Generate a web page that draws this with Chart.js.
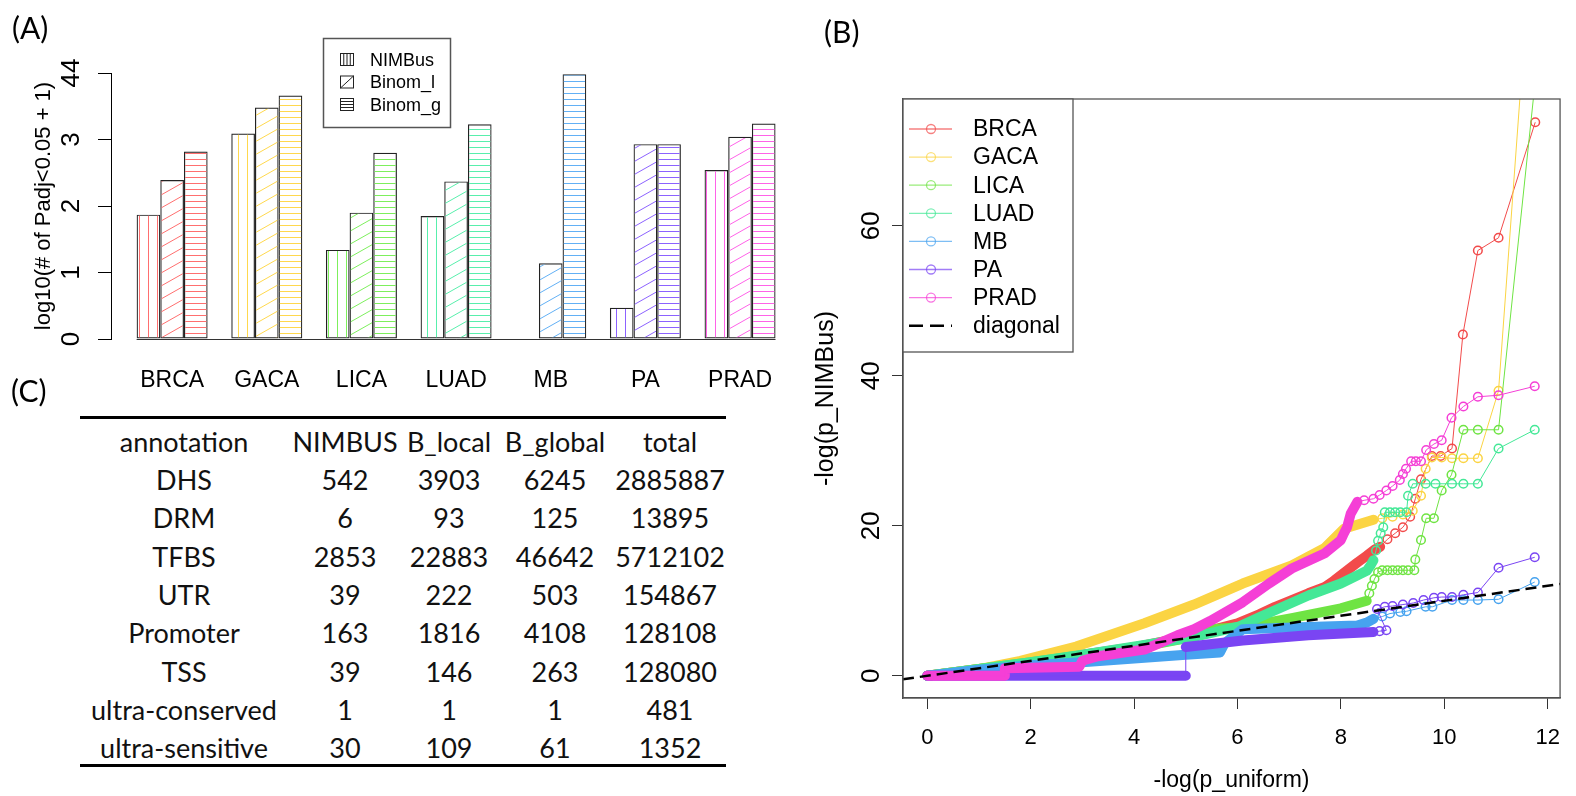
<!DOCTYPE html>
<html>
<head>
<meta charset="utf-8">
<script src="https://cdn.jsdelivr.net/npm/chart.js@4.4.1/dist/chart.umd.min.js"></script>
<style>
  body { margin: 0; background: #fff; }
  #page { position: relative; width: 1576px; height: 796px; overflow: hidden; background: #fff; }
  canvas { position: absolute; top: 0; }
  .tag { position: absolute; font-family: Lato, sans-serif; font-size: 30px; line-height: 30px; color: #000; }
  .rule { position: absolute; left: 80px; width: 646px; height: 3px; background: #000; }
  .cell { position: absolute; height: 38.3px; line-height: 38.3px; text-align: center; font-family: Lato, sans-serif; font-size: 27px; color: #111; white-space: nowrap; }
</style>
</head>
<body>
<div id="page">
  <canvas id="barChart" width="800" height="400" style="left:0"></canvas>
  <canvas id="qqChart" width="776" height="796" style="left:800px"></canvas>
  <div class="tag" style="left:12px;top:12px">(A)</div>
  <div class="tag" style="left:824px;top:16px">(B)</div>
  <div class="tag" style="left:11px;top:375px">(C)</div>
  <div class="rule" style="top:415.5px"></div>
  <div class="rule" style="top:763.5px"></div>
  <div id="table"></div>
</div>
<script>
// ---- (A) bar data ----
const groups = ['BRCA', 'GACA', 'LICA', 'LUAD', 'MB', 'PA', 'PRAD'];
const methods = ['NIMBus', 'Binom_l', 'Binom_g'];
const nimbusVals = [1.87, 3.09, 1.34, 1.85, 0.00, 0.47, 2.54];
const binomLVals = [2.39, 3.48, 1.90, 2.37, 1.14, 2.93, 3.04];
const binomGVals = [2.82, 3.66, 2.80, 3.23, 3.98, 2.93, 3.24];
const barYTicks = ['0', '1', '2', '3', '44'];
const hatchColors = ['#ff6f6f', '#ffd84d', '#7def5c', '#58efac', '#62b0f5', '#8c62ff', '#ff62e8'];

// ---- (B) qq data: dense band part + sparse circles ----
const qqNames = ['BRCA', 'GACA', 'LICA', 'LUAD', 'MB', 'PA', 'PRAD'];
const qqColors = ['#f24b4b', '#fbd443', '#6fe443', '#44e897', '#47a3ef', '#7a45f3', '#f53fd6'];

const brcaBandX = [0, 2, 4, 5, 6, 6.42, 6.73, 7.05, 7.37, 7.68, 7.87, 8.32, 8.5, 8.65, 8.76];
const brcaBandY = [0, 1.8, 3.8, 5.2, 7.0, 8.2, 9.2, 10.1, 11.0, 11.8, 12.7, 15.1, 16.0, 16.8, 17.2];
const brcaTailX = [8.9, 9.05, 9.2, 9.34, 9.44, 9.55, 9.76, 9.93, 10.15, 10.36, 10.65, 11.05, 11.76];
const brcaTailY = [18.2, 19.0, 19.8, 21.2, 23.6, 26.2, 29.3, 29.3, 30.3, 45.5, 56.7, 58.4, 73.8];

const gacaBandX = [0, 1, 1.8, 2.88, 4.2, 5.16, 6.1, 7.05, 7.68, 8.06, 8.63];
const gacaBandY = [0, 0.9, 2.0, 3.9, 7.0, 9.5, 12.3, 14.7, 17.0, 19.6, 20.8];
const gacaTailX = [8.8, 9.0, 9.2, 9.39, 9.55, 9.64, 9.76, 9.95, 10.15, 10.37, 10.65, 11.05, 11.77];
const gacaTailY = [21.0, 21.2, 21.5, 22.0, 24.0, 27.6, 29.1, 29.1, 29.0, 29.0, 29.0, 38.0, 106];

const licaBandX = [0, 2, 4, 5, 5.5, 6.1, 7.05, 8.0, 8.5];
const licaBandY = [0, 1.8, 3.7, 5.0, 6.2, 6.5, 7.7, 9.0, 10.0];
const licaTailX = [8.55, 8.6, 8.65, 8.72, 8.8, 8.9, 9.0, 9.1, 9.2, 9.3, 9.42, 9.44, 9.55, 9.65, 9.8, 9.95, 10.14, 10.37, 10.65, 11.05, 11.77];
const licaTailY = [11.0, 12.0, 12.9, 13.8, 14.07, 14.07, 14.07, 14.07, 14.07, 14.07, 14.07, 15.5, 18.1, 21.0, 21.0, 24.7, 26.8, 32.8, 32.8, 32.8, 80];

const luadBandX = [0, 1, 2, 3, 4.2, 5.16, 6.04, 6.42, 7.37, 8.0, 8.5, 8.58, 8.63];
const luadBandY = [0, 0.9, 1.8, 2.8, 4.1, 5.2, 6.6, 7.8, 10.7, 12.3, 14.0, 14.8, 15.4];
const luadTailX = [8.68, 8.72, 8.77, 8.82, 8.85, 8.95, 9.05, 9.15, 9.27, 9.3, 9.39, 9.64, 9.83, 10.15, 10.37, 10.65, 11.05, 11.75];
const luadTailY = [16.7, 18.0, 19.0, 19.8, 21.8, 21.8, 21.8, 21.8, 21.8, 24.0, 25.6, 25.6, 25.6, 25.6, 25.6, 25.6, 30.3, 32.8];

const mbBandX = [0, 1, 2, 3, 4, 5, 5.66, 5.75, 6.1, 7.37, 8.32, 8.5, 8.63];
const mbBandY = [0, 0.8, 1.4, 1.8, 2.3, 2.8, 3.1, 4.3, 6.2, 6.5, 6.7, 7.1, 7.6];
const mbTailX = [8.8, 8.95, 9.15, 9.27, 9.64, 9.77, 10.15, 10.37, 10.65, 11.05, 11.75];
const mbTailY = [7.9, 8.3, 8.5, 8.6, 9.2, 9.2, 10.1, 10.1, 10.1, 10.2, 12.5];

const paBandX = [0, 5.0, NaN, 5.0, 6.1, 7.37, 8.63];
const paBandY = [0, 0, NaN, 3.84, 4.7, 5.4, 5.84];
const paTailX = [8.75, 8.88, 8.7, 8.85, 9.0, 9.2, 9.4, 9.6, 9.8, 9.95, 10.15, 10.37, 10.65, 11.05, 11.75];
const paTailY = [5.95, 6.07, 8.9, 9.2, 9.3, 9.5, 9.7, 10.1, 10.4, 10.5, 10.5, 10.8, 11.1, 14.4, 15.8];

const pradBandX = [0, 1.49, 1.5, 2.94, 3.0, 3.3, 4.2, 4.84, 5.16, 5.47, 6.1, 6.61, 7.05, 7.68, 8.0, 8.06, 8.12, 8.19, 8.32];
const pradBandY = [0, 0, 1.0, 1.2, 2.0, 2.6, 3.5, 5.4, 6.2, 7.3, 9.8, 12.3, 14.3, 16.3, 18.1, 19.0, 19.8, 21.6, 23.2];
const pradTailX = [8.45, 8.63, 8.75, 8.88, 9.0, 9.14, 9.2, 9.26, 9.36, 9.45, 9.55, 9.65, 9.8, 9.95, 10.14, 10.37, 10.65, 11.05, 11.75];
const pradTailY = [23.4, 23.6, 24.1, 24.7, 25.3, 26.1, 26.9, 27.6, 28.6, 28.6, 28.6, 30.1, 30.9, 31.4, 34.4, 35.9, 37.2, 37.4, 38.6];

const diagX = [-0.47, 12.24];
const qqXTicks = [0, 2, 4, 6, 8, 10, 12];
const qqYTicks = [0, 20, 40, 60];

// ---- (C) table data ----
const tableHeader = ['annotation', 'NIMBUS', 'B_local', 'B_global', 'total'];
const annotations = ['DHS', 'DRM', 'TFBS', 'UTR', 'Promoter', 'TSS', 'ultra-conserved', 'ultra-sensitive'];
const nimbusCounts = [542, 6, 2853, 39, 163, 39, 1, 30];
const bLocalCounts = [3903, 93, 22883, 222, 1816, 146, 1, 109];
const bGlobalCounts = [6245, 125, 46642, 503, 4108, 263, 1, 61];
const totalCounts = [2885887, 13895, 5712102, 154867, 128108, 128080, 481, 1352];

Chart.defaults.font.family = "'Liberation Sans', Arial, sans-serif";
Chart.defaults.color = '#000';

// hatch fill like R's density/angle
function hatch(kind, color) {
  const c = document.createElement('canvas');
  let g;
  if (kind === 'v') {
    c.width = 9; c.height = 9;
    g = c.getContext('2d');
    g.strokeStyle = color; g.lineWidth = 1;
    g.beginPath(); g.moveTo(4.5, 0); g.lineTo(4.5, 9); g.stroke();
  } else if (kind === 'h') {
    c.width = 6; c.height = 6;
    g = c.getContext('2d');
    g.strokeStyle = color; g.lineWidth = 1;
    g.beginPath(); g.moveTo(0, 3.5); g.lineTo(6, 3.5); g.stroke();
  } else {
    c.width = 23; c.height = 13;
    g = c.getContext('2d');
    g.strokeStyle = color; g.lineWidth = 1;
    [[0, 0], [23, 0], [-23, 0], [0, 13], [0, -13]].forEach(function (s) {
      g.beginPath(); g.moveTo(s[0], 13 + s[1]); g.lineTo(23 + s[0], s[1]); g.stroke();
    });
  }
  return g.createPattern(c, 'repeat');
}

const hatchKinds = ['v', 'd', 'h'];
const barValues = [nimbusVals, binomLVals, binomGVals];

const barBase = {
  id: 'barBase',
  afterDatasetsDraw(chart) {
    const first = chart.getDatasetMeta(0).data[0];
    const last = chart.getDatasetMeta(2).data[groups.length - 1];
    const y0 = Math.round(chart.scales.y.getPixelForValue(0)) + 0.5;
    const g = chart.ctx;
    g.save();
    g.strokeStyle = '#333'; g.lineWidth = 1;
    g.beginPath();
    g.moveTo(first.x - first.width / 2, y0);
    g.lineTo(last.x + last.width / 2, y0);
    g.stroke();
    g.restore();
  }
};

const barLegend = {
  id: 'barLegend',
  afterDraw(chart) {
    const g = chart.ctx;
    g.save();
    g.strokeStyle = '#555'; g.lineWidth = 1.5;
    g.strokeRect(323.5, 38.5, 127, 89);
    methods.forEach(function (m, d) {
      const y = 60 + d * 22.5;
      const sx = 340.5, sy = y - 6.5;
      g.strokeStyle = '#222'; g.lineWidth = 1;
      g.strokeRect(sx, sy, 13, 12);
      g.beginPath();
      if (d === 0) {
        for (let k = 1; k <= 3; k++) { g.moveTo(sx + k * 3.25, sy); g.lineTo(sx + k * 3.25, sy + 12); }
      } else if (d === 1) {
        g.moveTo(sx, sy + 12); g.lineTo(sx + 13, sy);
      } else {
        for (let k = 1; k <= 3; k++) { g.moveTo(sx, sy + k * 3); g.lineTo(sx + 13, sy + k * 3); }
      }
      g.stroke();
      g.fillStyle = '#000';
      g.font = "18px 'Liberation Sans', Arial";
      g.textBaseline = 'middle';
      g.fillText(m, 370, y + 1);
    });
    g.restore();
  }
};

new Chart(document.getElementById('barChart'), {
  type: 'bar',
  data: {
    datasets: methods.map(function (m, d) {
      return {
        label: m,
        data: barValues[d].map(function (v, i) { return { x: i, y: v }; }),
        backgroundColor: hatchColors.map(function (c) { return hatch(hatchKinds[d], c); }),
        borderColor: '#222',
        borderWidth: 1.2,
        borderSkipped: false,
        inflateAmount: 0,
        categoryPercentage: 0.75,
        barPercentage: 1
      };
    })
  },
  options: {
    responsive: false,
    animation: false,
    events: [],
    layout: { padding: { top: 73, left: 0, right: 0, bottom: 0 } },
    plugins: { legend: { display: false }, tooltip: { enabled: false } },
    scales: {
      x: {
        type: 'linear', offset: false, min: -0.6458, max: 6.531,
        afterBuildTicks: function (s) { s.ticks = groups.map(function (g, i) { return { value: i }; }); },
        afterFit: function (s) { s.height = 61; },
        grid: { display: false, drawTicks: false, tickLength: 0 },
        border: { display: false },
        ticks: { callback: function (v) { return groups[v]; }, font: { size: 23 }, color: '#000', padding: 28, autoSkip: false, maxRotation: 0 }
      },
      y: {
        min: 0, max: 4,
        afterBuildTicks: function (s) { s.ticks = barYTicks.map(function (t, i) { return { value: i }; }); },
        afterFit: function (s) { s.width = 111; },
        grid: { drawOnChartArea: false, tickLength: 13, color: '#000' },
        border: { color: '#000', width: 1 },
        ticks: { callback: function (v, i) { return barYTicks[i]; }, font: { size: 26 }, color: '#000', minRotation: 90, maxRotation: 90, crossAlign: 'center', padding: 12, autoSkip: false },
        title: { display: true, text: 'log10(# of Padj<0.05 + 1)', font: { size: 22 }, color: '#000', padding: { top: 31 } }
      }
    }
  },
  plugins: [barBase, barLegend]
});

// ---- (B) qq plot ----
function pts(xs, ys) { return xs.map(function (x, i) { return { x: x, y: ys[i] }; }); }

const qqSeries = [
  [brcaBandX, brcaBandY, brcaTailX, brcaTailY],
  [gacaBandX, gacaBandY, gacaTailX, gacaTailY],
  [licaBandX, licaBandY, licaTailX, licaTailY],
  [luadBandX, luadBandY, luadTailX, luadTailY],
  [mbBandX, mbBandY, mbTailX, mbTailY],
  [paBandX, paBandY, paTailX, paTailY],
  [pradBandX, pradBandY, pradTailX, pradTailY]
];

const qqDatasets = [];
qqSeries.forEach(function (s, k) {
  const col = qqColors[k];
  // dense part: overlapping circles look like a thick band
  qqDatasets.push({
    label: qqNames[k],
    data: pts(s[0], s[1]),
    borderColor: col, borderWidth: 10, borderCapStyle: 'round', borderJoinStyle: 'round',
    pointRadius: 0, spanGaps: false, clip: 0, order: 2 * (7 - k) + 1
  });
  const bx = s[0].filter(function (v) { return !isNaN(v); });
  const by = s[1].filter(function (v) { return !isNaN(v); });
  const nb = bx.length;
  qqDatasets.push({
    label: qqNames[k] + ' pts',
    data: pts(bx.concat(s[2]), by.concat(s[3])),
    borderColor: col, borderWidth: 1,
    pointRadius: function (ctx) { return ctx.dataIndex >= nb ? 4.3 : 0; },
    pointBorderColor: col, pointBackgroundColor: 'rgba(0,0,0,0)', pointBorderWidth: 1.5,
    clip: 0, order: 2 * (7 - k)
  });
});
qqDatasets.push({
  label: 'diagonal',
  data: diagX.map(function (v) { return { x: v, y: v }; }),
  borderColor: '#000', borderWidth: 2.5, borderDash: [11, 6],
  pointRadius: 0, clip: 0, order: 0
});

const qqFrame = {
  id: 'qqFrame',
  afterDraw(chart) {
    const a = chart.chartArea;
    const g = chart.ctx;
    g.save();
    g.strokeStyle = '#555'; g.lineWidth = 1.3;
    g.strokeRect(a.left, a.top, a.right - a.left, a.bottom - a.top);
    // legend box
    const lx = a.left, ly = a.top;
    g.fillStyle = '#fff';
    g.fillRect(lx, ly, 170, 253);
    g.strokeRect(lx, ly, 170, 253);
    g.font = "23px 'Liberation Sans', Arial";
    g.textBaseline = 'middle';
    qqNames.forEach(function (n, k) {
      const y = ly + 30 + k * 28.1;
      g.globalAlpha = 0.7;
      g.strokeStyle = qqColors[k]; g.lineWidth = 1.3;
      g.beginPath(); g.moveTo(lx + 6, y); g.lineTo(lx + 49, y); g.stroke();
      g.beginPath(); g.arc(lx + 28, y, 4.5, 0, Math.PI * 2); g.stroke();
      g.globalAlpha = 1;
      g.fillStyle = '#000';
      g.fillText(n, lx + 70, y + 1);
    });
    const yd = ly + 30 + 7 * 28.1;
    g.strokeStyle = '#000'; g.lineWidth = 2.5; g.setLineDash([14, 7]);
    g.beginPath(); g.moveTo(lx + 6, yd); g.lineTo(lx + 49, yd); g.stroke();
    g.setLineDash([]);
    g.fillText('diagonal', lx + 70, yd + 1);
    g.restore();
  }
};

new Chart(document.getElementById('qqChart'), {
  type: 'line',
  data: { datasets: qqDatasets },
  options: {
    responsive: false,
    animation: false,
    events: [],
    layout: { padding: { top: 99, left: 0, right: 3, bottom: 0 } },
    plugins: { legend: { display: false }, tooltip: { enabled: false } },
    scales: {
      x: {
        type: 'linear', min: -0.47, max: 12.24,
        afterBuildTicks: function (s) { s.ticks = qqXTicks.map(function (v) { return { value: v }; }); },
        afterFit: function (s) { s.height = 98; },
        grid: { drawOnChartArea: false, tickLength: 11, color: '#333' },
        border: { color: '#444', width: 1.3 },
        ticks: { font: { size: 22 }, color: '#000', padding: 16, maxRotation: 0, autoSkip: false },
        title: { display: true, text: '-log(p_uniform)', font: { size: 23 }, color: '#000', padding: { bottom: 2 } }
      },
      y: {
        type: 'linear', min: -2.96, max: 76.9,
        afterBuildTicks: function (s) { s.ticks = qqYTicks.map(function (v) { return { value: v }; }); },
        afterFit: function (s) { s.width = 103; },
        grid: { drawOnChartArea: false, tickLength: 11, color: '#333' },
        border: { color: '#444', width: 1.3 },
        ticks: { font: { size: 26 }, color: '#000', minRotation: 90, maxRotation: 90, crossAlign: 'center', padding: 5.5, autoSkip: false },
        title: { display: true, text: '-log(p_NIMBus)', font: { size: 25 }, color: '#000', padding: { top: 11 } }
      }
    }
  },
  plugins: [qqFrame]
});

// ---- (C) table ----
const colLeft = [80, 288, 402, 496, 614];
const colWidth = [208, 114, 94, 118, 112];
const tableRows = [tableHeader].concat(annotations.map(function (a, i) {
  return [a, nimbusCounts[i], bLocalCounts[i], bGlobalCounts[i], totalCounts[i]];
}));
const tbl = document.getElementById('table');
tableRows.forEach(function (row, r) {
  row.forEach(function (txt, c) {
    const d = document.createElement('div');
    d.className = 'cell';
    d.style.left = colLeft[c] + 'px';
    d.style.width = colWidth[c] + 'px';
    d.style.top = (422.85 + r * 38.3) + 'px';
    d.textContent = String(txt);
    tbl.appendChild(d);
  });
});
</script>
</body>
</html>
